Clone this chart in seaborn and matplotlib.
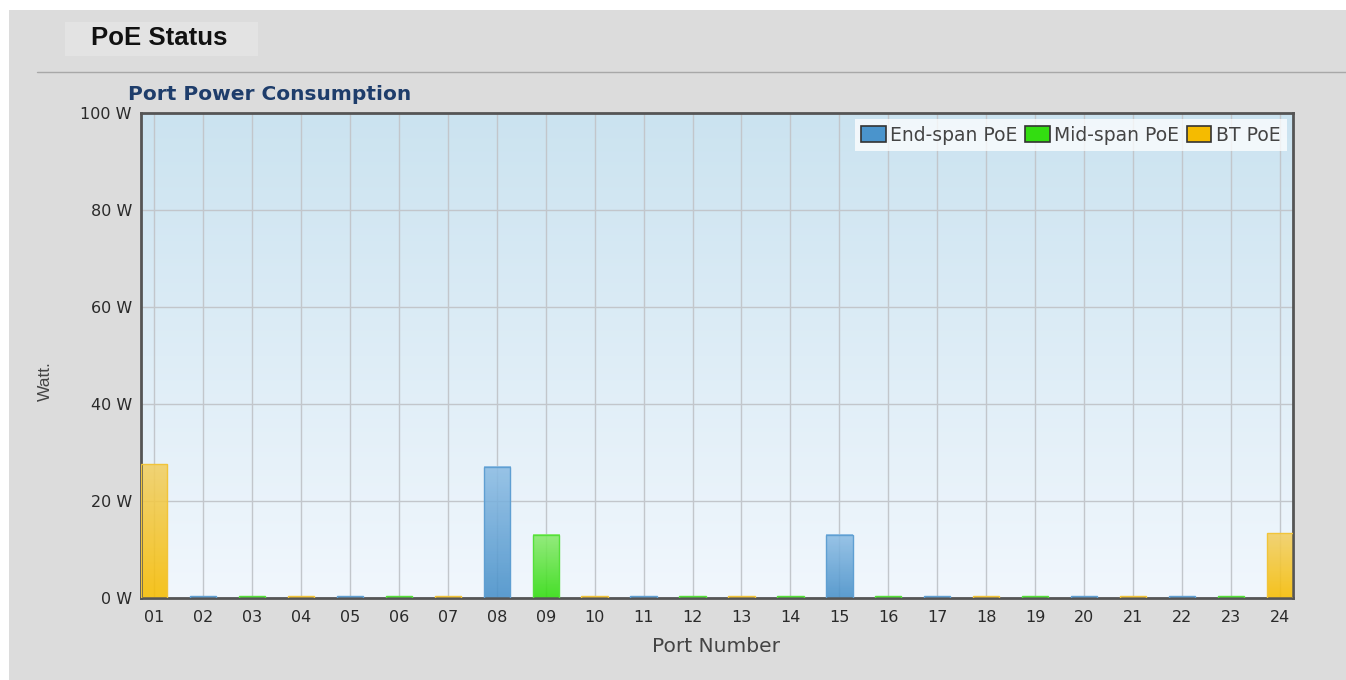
import numpy as np
import pandas as pd
import matplotlib
matplotlib.use("Agg")
import matplotlib.pyplot as plt
import seaborn as sns
from matplotlib.colors import LinearSegmentedColormap
from matplotlib.patches import Rectangle, Patch
from matplotlib.lines import Line2D

# ---------------- data ----------------
ports = ["01", "02", "03", "04", "05", "06", "07", "08", "09", "10", "11", "12",
         "13", "14", "15", "16", "17", "18", "19", "20", "21", "22", "23", "24"]
port_types = ["BT PoE", "End-span PoE", "Mid-span PoE", "BT PoE", "End-span PoE", "Mid-span PoE",
              "BT PoE", "End-span PoE", "Mid-span PoE", "BT PoE", "End-span PoE", "Mid-span PoE",
              "BT PoE", "Mid-span PoE", "End-span PoE", "Mid-span PoE", "End-span PoE", "BT PoE",
              "Mid-span PoE", "End-span PoE", "BT PoE", "End-span PoE", "Mid-span PoE", "BT PoE"]
watts = [27.6, 0.4, 0.4, 0.4, 0.4, 0.4, 0.4, 27.1, 13.0, 0.4, 0.4, 0.4,
         0.4, 0.4, 13.0, 0.4, 0.4, 0.4, 0.4, 0.4, 0.4, 0.4, 0.4, 13.3]
type_order = ["End-span PoE", "Mid-span PoE", "BT PoE"]
y_ticks = [0, 20, 40, 60, 80, 100]
y_tick_labels = ["0 W", "20 W", "40 W", "60 W", "80 W", "100 W"]

# ---------------- styles ----------------
base_colors = {"End-span PoE": "#4a94cc", "Mid-span PoE": "#33dd11", "BT PoE": "#f5bb00"}
grad_colors = {  # (bottom, top)
    "End-span PoE": ("#4790c9", "#8dbde4"),
    "Mid-span PoE": ("#30dc0c", "#88ea6c"),
    "BT PoE": ("#f6bc00", "#f2cf62"),
}
edge_colors = {"End-span PoE": "#5f9fd2", "Mid-span PoE": "#55e03a", "BT PoE": "#f1c43a"}

W, H = 1346, 680
page_bg = "#dcdcdc"

df = pd.DataFrame({"port": ports, "watt": watts, "type": port_types})

sns.set_theme(style="white")
plt.rcParams['font.family'] = ['DejaVu Sans']

fig = plt.figure(figsize=(W / 100, H / 100), dpi=100)
fig.patch.set_facecolor("white")
fig.patches.append(Rectangle((9 / W, 0), 1, 1 - 10 / H, transform=fig.transFigure,
                             facecolor=page_bg, edgecolor="none", zorder=-10))
# header box
fig.patches.append(Rectangle((65 / W, 1 - 56 / H), (258 - 65) / W, 34 / H, transform=fig.transFigure,
                             facecolor="#e3e3e3", edgecolor="none", zorder=-9))
fig.text(91 / W, 1 - 38 / H, "PoE Status", fontsize=18.5, fontweight="bold", color="#111111",
         va="center", ha="left", family=["Liberation Sans", "DejaVu Sans"])
fig.lines.append(Line2D([37 / W, 1], [1 - 72 / H, 1 - 72 / H], transform=fig.transFigure,
                        color="#a8a8a8", lw=1))

ax = fig.add_axes([141 / W, 1 - 598 / H, (1293 - 141) / W, (598 - 113) / H])

sns.barplot(data=df, x="port", y="watt", hue="type", hue_order=type_order,
            palette=base_colors, dodge=False, width=0.54, ax=ax, legend=False)

# background gradient
bg_cmap = LinearSegmentedColormap.from_list("bg", ["#f1f7fd", "#cbe3f0"])
ax.imshow(np.linspace(0, 1, 256).reshape(-1, 1), extent=[0, 1, 0, 1], transform=ax.transAxes,
          aspect="auto", cmap=bg_cmap, origin="lower", zorder=0)

# gradient bars
for cont, t in zip(ax.containers, type_order):
    cmap = LinearSegmentedColormap.from_list(t, list(grad_colors[t]))
    for p in cont.patches:
        h = p.get_height()
        if not np.isfinite(h) or h <= 0:
            continue
        x0, w = p.get_x(), p.get_width()
        ax.imshow(np.linspace(0, 1, 64).reshape(-1, 1), extent=[x0, x0 + w, 0, h],
                  aspect="auto", cmap=cmap, origin="lower", alpha=0.88, zorder=2)
        p.set_facecolor("none")
        p.set_edgecolor(edge_colors[t])
        p.set_linewidth(1.0)
        p.set_zorder(3)

ax.set_xlim(-0.27, 23.27)
ax.set_ylim(0, 100)
ax.set_yticks(y_ticks)
ax.set_yticklabels(y_tick_labels)
ax.set_axisbelow(True)
ax.grid(True, color="#c2c6cb", lw=1)
ax.tick_params(axis="both", length=0, labelsize=11.5, labelcolor="#2a2a2a")
ax.tick_params(axis="y", pad=6.5)
ax.tick_params(axis="x", pad=9)
for s in ax.spines.values():
    s.set_visible(True)
    s.set_color("#555555")
    s.set_linewidth(2)

ax.set_xlabel("Port Number", fontsize=14.5, color="#444444", va="center")
ax.xaxis.set_label_coords((716 - 141) / 1152, (598 - 646) / 485)
ax.set_ylabel("")
fig.text(45 / W, 1 - 381 / H, "Watt.", rotation=90, fontsize=12.5, color="#444444",
         va="center", ha="center", family=["Liberation Sans", "DejaVu Sans"])
fig.text(128 / W, 1 - 95 / H, "Port Power Consumption", fontsize=14.5, fontweight="bold",
         color="#1e3d6b", va="center", ha="left")

handles = [Patch(facecolor=base_colors[t], edgecolor="#333333", lw=1.2) for t in type_order]
leg = ax.legend(handles, type_order, ncol=3, loc="upper right",
                bbox_to_anchor=(1 - 6 / 1152, 1 - 6 / 485), borderaxespad=0,
                frameon=True, facecolor="white", framealpha=0.75, edgecolor="none",
                fontsize=13.5, handlelength=1.3, handleheight=0.9, columnspacing=0.4,
                handletextpad=0.25, borderpad=0.35, fancybox=False)
for txt in leg.get_texts():
    txt.set_color("#444444")
leg.set_zorder(10)

fig.savefig("out.png", dpi=100)
